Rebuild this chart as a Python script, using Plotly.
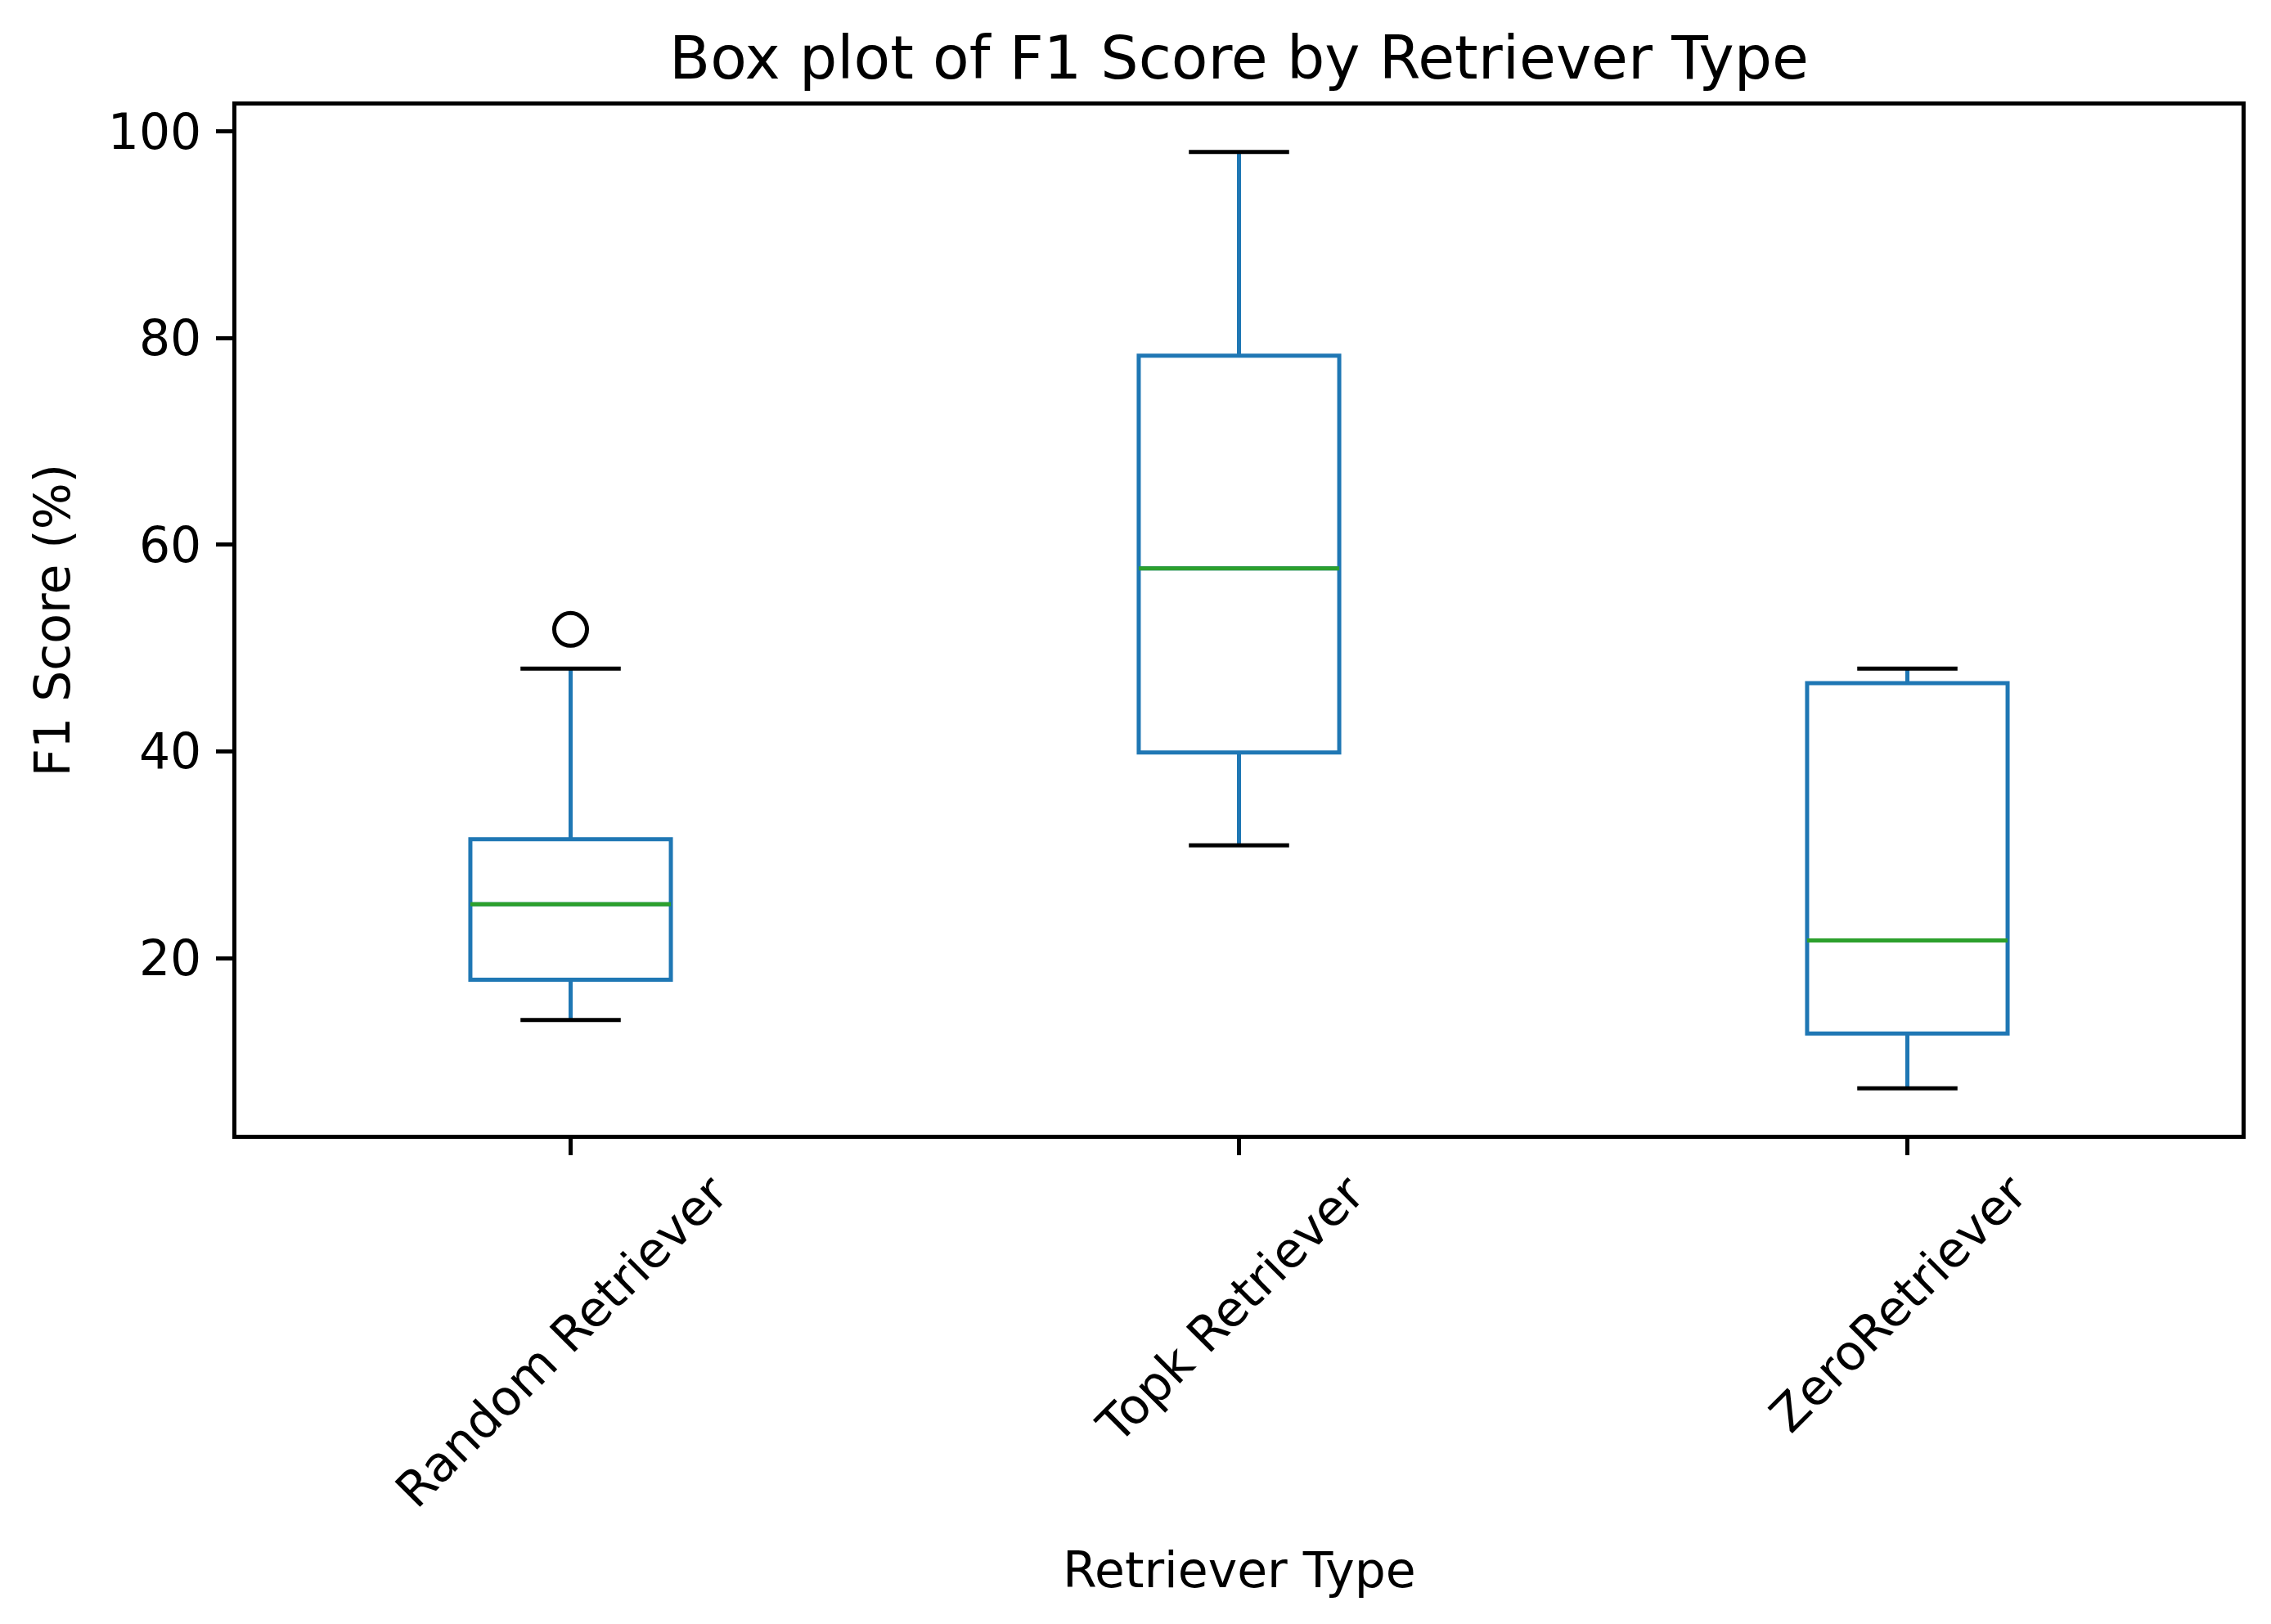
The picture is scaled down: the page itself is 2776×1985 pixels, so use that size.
import plotly.graph_objects as go

# ---- data ----
categories = ["Random Retriever", "Topk Retriever", "ZeroRetriever"]
positions = [1, 2, 3]
lower_whisker = [14.0, 30.9, 7.4]
q1_values = [17.9, 39.9, 12.7]
median_values = [25.2, 57.7, 21.7]
q3_values = [31.5, 78.3, 46.6]
upper_whisker = [48.0, 98.0, 48.0]
outlier_x = [1]
outlier_y = [51.8]
y_ticks = [20, 40, 60, 80, 100]

# ---- style ----
BLUE = "#1f77b4"
GREEN = "#2ca02c"
BOX_W = 0.3
CAP_HALF = 0.075
LW = 5
FONT = "DejaVu Sans"
TICK_FS = 60
TITLE_FS = 73

fig = go.Figure()

fig.add_trace(go.Box(
    x=positions,
    q1=q1_values,
    median=median_values,
    q3=q3_values,
    lowerfence=lower_whisker,
    upperfence=upper_whisker,
    width=BOX_W,
    whiskerwidth=0,
    boxpoints=False,
    line=dict(color=BLUE, width=LW),
    fillcolor="rgba(0,0,0,0)",
    showlegend=False,
    hoverinfo="skip",
))

# medians (green)
mx, my = [], []
for p, m in zip(positions, median_values):
    mx += [p - BOX_W / 2, p + BOX_W / 2, None]
    my += [m, m, None]
fig.add_trace(go.Scatter(x=mx, y=my, mode="lines",
                         line=dict(color=GREEN, width=LW),
                         showlegend=False, hoverinfo="skip"))

# caps (black)
cx, cy = [], []
for p, lo, hi in zip(positions, lower_whisker, upper_whisker):
    cx += [p - CAP_HALF, p + CAP_HALF, None, p - CAP_HALF, p + CAP_HALF, None]
    cy += [lo, lo, None, hi, hi, None]
fig.add_trace(go.Scatter(x=cx, y=cy, mode="lines",
                         line=dict(color="black", width=LW),
                         showlegend=False, hoverinfo="skip"))

# outliers
fig.add_trace(go.Scatter(x=outlier_x, y=outlier_y, mode="markers",
                         marker=dict(symbol="circle-open", size=40, color="black",
                                     line=dict(width=5, color="black")),
                         showlegend=False, hoverinfo="skip"))

# x tick labels, rotated 45 degrees and centred under each tick
for p, name in zip(positions, categories):
    fig.add_annotation(x=p, xref="x", y=-0.026, yref="paper",
                       text=name, textangle=-45, showarrow=False,
                       xanchor="center", yanchor="top", xshift=-11,
                       font=dict(family=FONT, size=TICK_FS, color="black"))

fig.add_annotation(x=0.5, xref="paper", y=-0.423, yref="paper",
                   text="Retriever Type", showarrow=False,
                   xanchor="center", yanchor="middle",
                   font=dict(family=FONT, size=TICK_FS, color="black"))
fig.add_annotation(x=-0.092, xref="paper", y=0.5, yref="paper",
                   text="F1 Score (%)", textangle=-90, showarrow=False,
                   xanchor="center", yanchor="middle",
                   font=dict(family=FONT, size=TICK_FS, color="black"))

fig.update_layout(
    width=2760, height=1969,
    margin=dict(l=281, r=28, t=121, b=590),
    paper_bgcolor="white", plot_bgcolor="white",
    font=dict(family=FONT, size=TICK_FS, color="black"),
    title=dict(text="Box plot of F1 Score by Retriever Type",
               x=0.5, xref="paper", xanchor="center",
               y=1 - 62 / 1969, yref="container", yanchor="middle",
               font=dict(family=FONT, size=TITLE_FS, color="black")),
    showlegend=False,
)
fig.update_xaxes(range=[0.5, 3.5], tickvals=positions, showticklabels=False,
                 showgrid=False, zeroline=False,
                 showline=True, mirror=True, linecolor="black", linewidth=4.5,
                 ticks="outside", ticklen=20, tickwidth=4.5, tickcolor="black")
fig.update_yaxes(range=[2.9, 102.5], tickvals=y_ticks,
                 showgrid=False, zeroline=False,
                 showline=True, mirror=True, linecolor="black", linewidth=4.5,
                 ticks="outside", ticklen=20, tickwidth=4.5, tickcolor="black",
                 tickfont=dict(family=FONT, size=TICK_FS, color="black"),
                 ticklabelstandoff=6)

fig.write_html("out.html")
